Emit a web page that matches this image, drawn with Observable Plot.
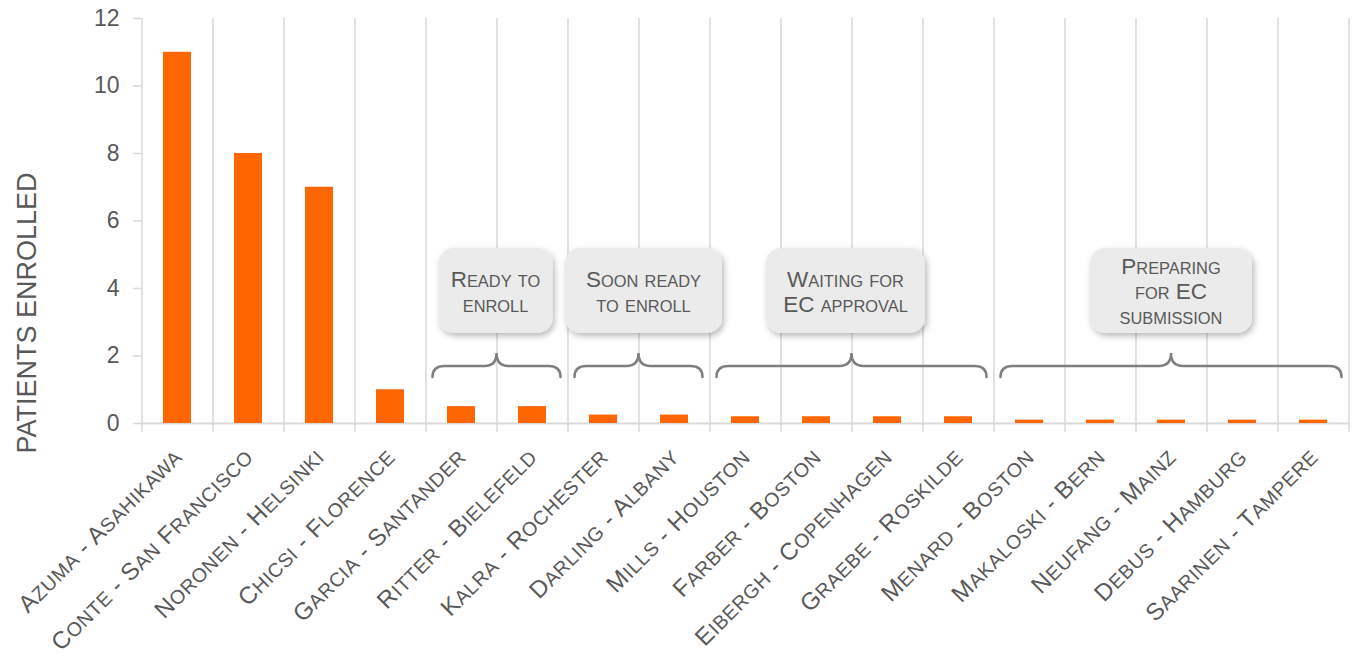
<!DOCTYPE html>
<html><head><meta charset="utf-8">
<script src="https://cdn.jsdelivr.net/npm/d3@7"></script>
<script src="https://cdn.jsdelivr.net/npm/@observablehq/plot@0.6"></script>
<style>
html,body{margin:0;padding:0;background:#fff;}
#chart svg{display:block;}
</style></head><body><div id="chart"></div>
<script>
// ---- data ----
const sites = ["Azuma - Asahikawa", "Conte - San Francisco", "Noronen - Helsinki", "Chicsi - Florence",
  "Garcia - Santander", "Ritter - Bielefeld", "Kalra - Rochester", "Darling - Albany",
  "Mills - Houston", "Farber - Boston", "Eibergh - Copenhagen", "Graebe - Roskilde",
  "Menard - Boston", "Makaloski - Bern", "Neufang - Mainz", "Debus - Hamburg", "Saarinen - Tampere"];
const enrolled = [11, 8, 7, 1, 0.5, 0.5, 0.25, 0.25, 0.2, 0.2, 0.2, 0.2, 0.1, 0.1, 0.1, 0.1, 0.1];
const yTicks = [0, 2, 4, 6, 8, 10, 12];
const yLabel = "PATIENTS ENROLLED";
const groupLabels = [["Ready to", "enroll"], ["Soon ready", "to enroll"], ["Waiting for", "EC approval"], ["Preparing", "for EC", "submission"]];
const groupFirst = ["Garcia - Santander", "Kalra - Rochester", "Mills - Houston", "Menard - Boston"];
const groupLast = ["Ritter - Bielefeld", "Darling - Albany", "Graebe - Roskilde", "Saarinen - Tampere"];

// ---- layout / style ----
const W = 1356, H = 657, mL = 141, mR = 7, mT = 18, mB = 234;
const step = (W - mL - mR) / sites.length;
const gridColor = "#d9d9d9", textColor = "#595959", barColor = "#ff6600", braceColor = "#7f7f7f";
const font = "'Liberation Sans', Arial, Helvetica, sans-serif";
const boxW = [114, 157, 159, 162];
const boxDx = [-1, 5, -6, 0];
const labelFull = 24, labelSmall = 19.6;
const boxFull = 22.5, boxSmall = 16.4;

const rows = sites.map((site, i) => ({site, value: enrolled[i]}));

const plot = Plot.plot({
  width: W, height: H,
  marginLeft: mL, marginRight: mR, marginTop: mT, marginBottom: mB,
  style: {fontFamily: font, background: "#fff", overflow: "visible"},
  x: {domain: sites, paddingInner: 0.6, paddingOuter: 0.3, axis: null},
  y: {domain: [0, 12], axis: null},
  marks: [
    Plot.ruleX(sites, {x: d => d, dx: -step / 2, stroke: gridColor, strokeWidth: 1.5, insetBottom: -9}),
    Plot.ruleX(sites.slice(-1), {x: d => d, dx: step / 2, stroke: gridColor, strokeWidth: 1.5, insetBottom: -9}),
    Plot.ruleY([0], {stroke: gridColor, strokeWidth: 2}),
    Plot.axisY({ticks: yTicks, tickSize: 8, tickPadding: 14, fontSize: 23, stroke: gridColor, strokeWidth: 1.5, fill: textColor, label: null}),
    Plot.barY(rows, {x: "site", y: "value", fill: barColor}),
    Plot.text(sites, {x: d => d, frameAnchor: "bottom", rotate: -45, textAnchor: "end", lineAnchor: "bottom",
      dx: 6, dy: 35, fontSize: labelFull, fill: textColor}),
    Plot.text([yLabel], {frameAnchor: "left", text: d => d, rotate: -90, textAnchor: "middle", lineAnchor: "bottom",
      dx: -106, dy: 92, fontSize: 27, fill: textColor})
  ]
});
document.getElementById("chart").appendChild(plot);

// small caps helper: capitals at full size, lower-case letters as smaller capitals
function addSmallCaps(parent, str, full, small) {
  const runs = [];
  for (const ch of str) {
    const isSmall = ch !== ch.toUpperCase();
    const size = isSmall ? small : full;
    const last = runs[runs.length - 1];
    if (last && last.size === size) last.text += ch.toUpperCase();
    else runs.push({size, text: ch.toUpperCase()});
  }
  runs.forEach(r => parent.append("tspan").attr("font-size", r.size).text(r.text));
}

const svg = d3.select(plot);
const siteSet = new Set(sites);
svg.selectAll("text").filter(function () { return siteSet.has(this.textContent); })
  .each(function () {
    const s = this.textContent;
    const t = d3.select(this).text(null).attr("letter-spacing", 0.6);
    addSmallCaps(t, s, labelFull, labelSmall);
  });

// ---- annotations (group boxes + braces), positioned with the plot's x scale ----
const xs = plot.scale("x");
const n = xs.domain.length;
const pi = xs.paddingInner ?? 0.6, po = xs.paddingOuter ?? 0.3, al = xs.align ?? 0.5;
const r0 = xs.range[0], r1 = xs.range[1];
const st = xs.step ?? (r1 - r0) / (n - pi + 2 * po);
const start = r0 + (r1 - r0 - st * (n - pi)) * al;
const leftOf = s => start + xs.domain.indexOf(s) * st - st * pi / 2;
const rightOf = s => leftOf(s) + st;

const defs = svg.append("defs");
const f = defs.append("filter").attr("id", "shadow").attr("x", "-20%").attr("y", "-20%").attr("width", "140%").attr("height", "150%");
f.append("feDropShadow").attr("dx", 2).attr("dy", 3).attr("stdDeviation", 3).attr("flood-color", "#000").attr("flood-opacity", 0.28);

const g = svg.append("g");
groupLabels.forEach((lines, i) => {
  const x0 = leftOf(groupFirst[i]) + 7, x1 = rightOf(groupLast[i]) - 7;
  const xm = (x0 + x1) / 2;
  const yb = 366, ye = 377, yp = 353;
  g.append("path")
    .attr("d", `M${x0},${ye} Q${x0},${yb} ${x0 + 12},${yb} L${xm - 12},${yb} Q${xm},${yb} ${xm},${yp} Q${xm},${yb} ${xm + 12},${yb} L${x1 - 12},${yb} Q${x1},${yb} ${x1},${ye}`)
    .attr("fill", "none").attr("stroke", braceColor).attr("stroke-width", 2.5).attr("stroke-linecap", "round");
  const cx = (leftOf(groupFirst[i]) + rightOf(groupLast[i])) / 2 + boxDx[i];
  g.append("rect")
    .attr("x", cx - boxW[i] / 2).attr("y", 248).attr("width", boxW[i]).attr("height", 85)
    .attr("rx", 15).attr("fill", "#ebebeb").attr("filter", "url(#shadow)");
  const c = 291;
  const t = g.append("text").attr("text-anchor", "middle").attr("fill", textColor)
    .attr("font-family", font).attr("font-size", boxFull);
  lines.forEach((line, k) => {
    const ln = t.append("tspan").attr("x", cx).attr("y", c - (lines.length - 1) * 12.5 + 8 + k * 25);
    addSmallCaps(ln, line, boxFull, boxSmall);
  });
});
</script>
</body></html>
